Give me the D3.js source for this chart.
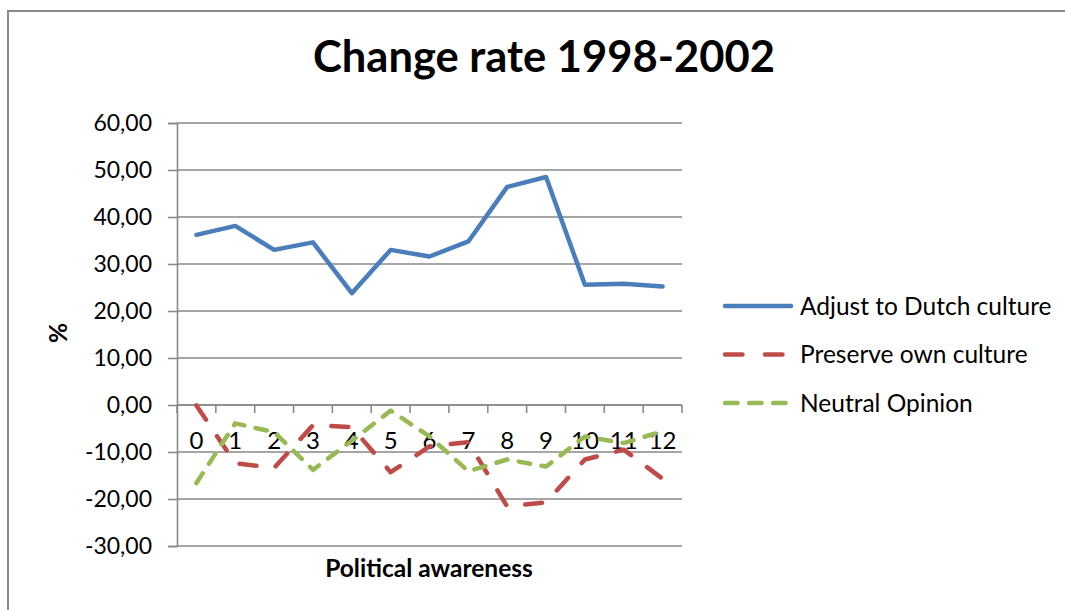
<!DOCTYPE html>
<html>
<head>
<meta charset="utf-8">
<script src="https://cdn.jsdelivr.net/npm/d3@7"></script>
<style>
  html, body { margin: 0; padding: 0; background: #fff; }
  svg { display: block; font-family: Lato, "Open Sans", sans-serif; }
</style>
</head>
<body>
<svg id="chart" width="1065" height="610"></svg>
<script>
// Political awareness levels 0..12
const categories = ["0", "1", "2", "3", "4", "5", "6", "7", "8", "9", "10", "11", "12"];

// Change rate (%) 1998-2002 per awareness level
const adjustDutch  = [36.2, 38.1, 33.0, 34.6, 23.8, 33.0, 31.6, 34.8, 46.4, 48.5, 25.6, 25.8, 25.2];
const preserveOwn  = [-0.1, -12.4, -13.4, -4.3, -4.7, -14.3, -8.8, -7.9, -21.6, -20.7, -11.6, -9.5, -15.7];
const neutralOpin  = [-16.6, -3.9, -5.8, -13.8, -7.6, -1.2, -6.7, -14.1, -11.6, -13.1, -6.7, -8.1, -5.6];

const seriesNames = ["Adjust to Dutch culture", "Preserve own culture", "Neutral Opinion"];
const yTicks = [-30, -20, -10, 0, 10, 20, 30, 40, 50, 60];

const series = [
  { name: seriesNames[0], values: adjustDutch, color: "#4A7EBB", dash: null,    legendDash: null },
  { name: seriesNames[1], values: preserveOwn, color: "#BE4B48", dash: "17,20", legendDash: "17.5,22.5" },
  { name: seriesNames[2], values: neutralOpin, color: "#98B954", dash: "11.5,11.5", legendDash: "12.5,11.5" }
];

const svg = d3.select("#chart");
const plot = { left: 177, right: 682, top: 123, bottom: 546 };
const gridColor = "#898989";

// outer chart frame
svg.append("path")
  .attr("d", "M8,612 V11 H1067")
  .attr("fill", "none")
  .attr("stroke", gridColor)
  .attr("stroke-width", 2);

const x = d3.scaleBand().domain(categories).range([plot.left, plot.right]).padding(0);
const y = d3.scaleLinear().domain([-30, 60]).range([plot.bottom, plot.top]);

// horizontal gridlines
svg.append("g").selectAll("line").data(yTicks).join("line")
  .attr("x1", plot.left).attr("x2", plot.right)
  .attr("y1", d => y(d)).attr("y2", d => y(d))
  .attr("stroke", gridColor).attr("stroke-width", 1.6);

// value axis
const fmt = d => (d < 0 ? "-" : "") + Math.abs(d).toFixed(2).replace(".", ",");
const yAxis = svg.append("g")
  .attr("transform", `translate(${plot.left},0)`)
  .call(d3.axisLeft(y).tickValues(yTicks).tickFormat(fmt).tickSize(9).tickPadding(16));
yAxis.select(".domain").attr("stroke", gridColor).attr("stroke-width", 1.6);
yAxis.selectAll(".tick line").attr("stroke", gridColor).attr("stroke-width", 1.6);
yAxis.selectAll(".tick text").attr("font-size", 23).attr("font-family", "Lato").attr("fill", "#000");

// category axis crossing at zero
const y0 = y(0);
const xAxis = svg.append("g")
  .attr("transform", `translate(0,${y0})`)
  .call(d3.axisBottom(x).tickSizeInner(0).tickSizeOuter(0).tickPadding(27));
xAxis.select(".domain").remove();
xAxis.selectAll(".tick text").attr("font-size", 24).attr("font-family", "Lato").attr("fill", "#000");

svg.append("line")
  .attr("x1", plot.left).attr("x2", plot.right)
  .attr("y1", y0).attr("y2", y0)
  .attr("stroke", gridColor).attr("stroke-width", 1.6);

// category boundary tick marks
const bounds = categories.map(c => x(c)).concat([plot.right]);
svg.append("g").selectAll("line").data(bounds).join("line")
  .attr("x1", d => d).attr("x2", d => d)
  .attr("y1", y0).attr("y2", y0 + 8)
  .attr("stroke", gridColor).attr("stroke-width", 1.6);

// series lines
const line = d3.line()
  .x((d, i) => x(categories[i]) + x.bandwidth() / 2)
  .y(d => y(d));

svg.append("g").selectAll("path").data(series).join("path")
  .attr("d", d => line(d.values))
  .attr("fill", "none")
  .attr("stroke", d => d.color)
  .attr("stroke-width", 4.5)
  .attr("stroke-linejoin", "round")
  .attr("stroke-linecap", "round")
  .attr("stroke-dasharray", d => d.dash);

// legend
const legend = svg.append("g").selectAll("g").data(series).join("g")
  .attr("transform", (d, i) => `translate(0,${306 + i * 48.5})`);
legend.append("line")
  .attr("x1", 725).attr("x2", 791)
  .attr("y1", 0).attr("y2", 0)
  .attr("stroke", d => d.color)
  .attr("stroke-width", 4.5)
  .attr("stroke-linecap", "round")
  .attr("stroke-dasharray", d => d.legendDash);
legend.append("text")
  .attr("x", 800).attr("y", 8.5)
  .attr("font-size", 24.5)
  .attr("fill", "#000")
  .text(d => d.name);

// titles
svg.append("text")
  .attr("x", 544).attr("y", 72)
  .attr("text-anchor", "middle")
  .attr("font-size", 43.5).attr("font-weight", "bold")
  .text("Change rate 1998-2002");

svg.append("text")
  .attr("x", 429).attr("y", 577)
  .attr("text-anchor", "middle")
  .attr("font-size", 24.5).attr("font-weight", "bold")
  .text("Political awareness");

svg.append("text")
  .attr("transform", "translate(67,333) rotate(-90)")
  .attr("text-anchor", "middle")
  .attr("font-size", 24.5).attr("font-weight", "bold")
  .text("%");
</script>
</body>
</html>
